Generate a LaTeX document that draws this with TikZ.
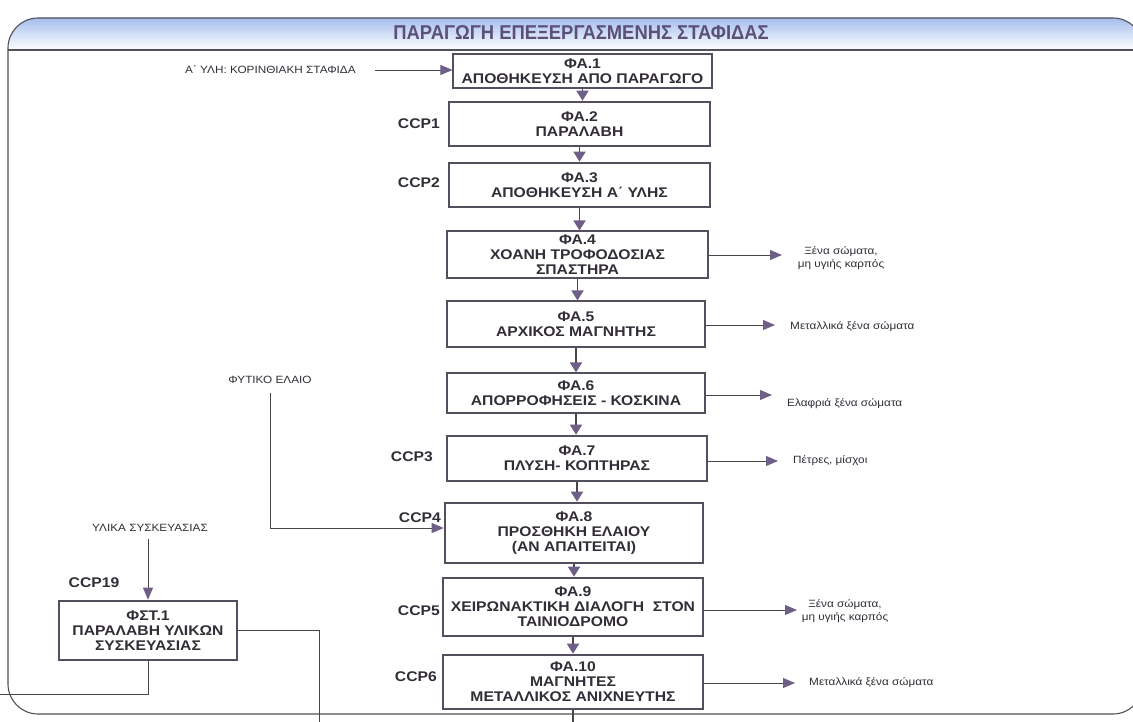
\documentclass[tikz,border=0pt]{standalone}
\usepackage{fontspec}
\setmainfont{Liberation Sans}
\newfontfamily\widefont{Liberation Sans}[FakeStretch=1.12]
\newfontfamily\narrowfont{Liberation Sans}[FakeStretch=0.92]
\usetikzlibrary{arrows.meta}

\definecolor{boxc}{RGB}{85,78,95}
\definecolor{txtc}{RGB}{50,45,55}
\definecolor{tipc}{RGB}{110,95,135}
\definecolor{linec}{RGB}{70,70,75}
\definecolor{framec}{RGB}{80,80,88}
\definecolor{titlec}{RGB}{90,80,120}
\definecolor{hdrblue}{RGB}{160,186,236}
\definecolor{hdrmid}{RGB}{212,224,248}

\begin{document}
\begin{tikzpicture}[x=1pt,y=-1pt,
  stage/.style={draw=boxc, line width=1.1pt, fill=white, inner sep=0pt,
    align=center, text=txtc, font=\widefont\bfseries\fontsize{14}{15}\selectfont},
  ccpstage/.style={stage, line width=2.6pt},
  ccplabel/.style={font=\widefont\bfseries\fontsize{14}{15}\selectfont, text=txtc, inner sep=0pt},
  outlabel/.style={font=\widefont\fontsize{10.5}{13}\selectfont, text=txtc, align=center, inner sep=0pt},
  inlabel/.style={font=\widefont\fontsize{10.5}{13}\selectfont, text=txtc, inner sep=0pt},
  flow/.style={draw=linec, line width=1.8pt, -{Triangle[length=10pt,width=12pt,color=tipc]}},
  side/.style={draw=linec, line width=0.9pt, -{Triangle[length=12pt,width=10pt,color=tipc]}},
  feed/.style={draw=linec, line width=0.9pt}]

\useasboundingbox (0,0) rectangle (1133,722);
\fill[white] (0,0) rectangle (1133,722);
\clip (0,0) rectangle (1133,722);

% frame with shaded title band
\begin{scope}
  \clip[rounded corners=30pt] (8,18) rectangle (1143,714);
  \shade[top color=hdrblue, middle color=hdrmid, bottom color=white] (0,16) rectangle (1143,50);
\end{scope}
\draw[framec, line width=1.1pt, rounded corners=30pt] (8,18) rectangle (1143,714);
\draw[framec, line width=1.1pt] (8,50) -- (1143,50);
\node[font=\narrowfont\bfseries\fontsize{20}{20}\selectfont, text=titlec] (title) at (581,33)
  {ΠΑΡΑΓΩΓΗ ΕΠΕΞΕΡΓΑΣΜΕΝΗΣ ΣΤΑΦΙΔΑΣ};

% main processing line
\node[stage, minimum width=259pt, minimum height=34pt] (b1) at (582.5,71)
  {ΦΑ.1\\ΑΠΟΘΗΚΕΥΣΗ ΑΠΟ ΠΑΡΑΓΩΓΟ};
\node[ccpstage, minimum width=261pt, minimum height=44pt] (b2) at (579.5,124)
  {ΦΑ.2\\ΠΑΡΑΛΑΒΗ};
\node[ccpstage, minimum width=261pt, minimum height=44pt] (b3) at (579.5,185)
  {ΦΑ.3\\ΑΠΟΘΗΚΕΥΣΗ Α΄ ΥΛΗΣ};
\node[stage, minimum width=261pt, minimum height=47pt] (b4) at (577.5,254.5)
  {ΦΑ.4\\ΧΟΑΝΗ ΤΡΟΦΟΔΟΣΙΑΣ\\ΣΠΑΣΤΗΡΑ};
\node[stage, minimum width=258pt, minimum height=46pt] (b5) at (576,324)
  {ΦΑ.5\\ΑΡΧΙΚΟΣ ΜΑΓΝΗΤΗΣ};
\node[stage, minimum width=258pt, minimum height=40pt] (b6) at (576,393)
  {ΦΑ.6\\ΑΠΟΡΡΟΦΗΣΕΙΣ - ΚΟΣΚΙΝΑ};
\node[ccpstage, minimum width=260pt, minimum height=45pt] (b7) at (577,458.5)
  {ΦΑ.7\\ΠΛΥΣΗ- ΚΟΠΤΗΡΑΣ};
\node[ccpstage, minimum width=258pt, minimum height=60pt] (b8) at (574,533)
  {ΦΑ.8\\ΠΡΟΣΘΗΚΗ ΕΛΑΙΟΥ\\(ΑΝ ΑΠΑΙΤΕΙΤΑΙ)};
\node[ccpstage, minimum width=260pt, minimum height=58pt] (b9) at (573,607)
  {ΦΑ.9\\ΧΕΙΡΩΝΑΚΤΙΚΗ ΔΙΑΛΟΓΗ\ \ ΣΤΟΝ\\ΤΑΙΝΙΟΔΡΟΜΟ};
\node[ccpstage, minimum width=260pt, minimum height=54pt] (b10) at (573,682)
  {ΦΑ.10\\ΜΑΓΝΗΤΕΣ\\ΜΕΤΑΛΛΙΚΟΣ ΑΝΙΧΝΕΥΤΗΣ};

% packaging materials
\node[ccpstage, minimum width=178pt, minimum height=59pt] (f1) at (148,630.5)
  {ΦΣΤ.1\\ΠΑΡΑΛΑΒΗ ΥΛΙΚΩΝ\\ΣΥΣΚΕΥΑΣΙΑΣ};

% critical control points
\node[ccplabel, anchor=east] (c1) at (440,124) {CCP1};
\node[ccplabel, anchor=east] (c2) at (440,183) {CCP2};
\node[ccplabel, anchor=east] (c3) at (433,457) {CCP3};
\node[ccplabel, anchor=east] (c4) at (441,518) {CCP4};
\node[ccplabel, anchor=east] (c5) at (440,611) {CCP5};
\node[ccplabel, anchor=east] (c6) at (437,677) {CCP6};
\node[ccplabel] (c19) at (94,583) {CCP19};

% inputs
\node[inlabel, anchor=west] (in1) at (185,70) {Α΄ ΥΛΗ: ΚΟΡΙΝΘΙΑΚΗ ΣΤΑΦΙΔΑ};
\node[inlabel] (oil) at (270,380) {ΦΥΤΙΚΟ ΕΛΑΙΟ};
\node[inlabel] (pk) at (150,528) {ΥΛΙΚΑ ΣΥΣΚΕΥΑΣΙΑΣ};

% removed material
\node[outlabel] (o4) at (841,258) {Ξένα σώματα,\\μη υγιής καρπός};
\node[outlabel, anchor=west] (o5) at (790,327) {Μεταλλικά ξένα σώματα};
\node[outlabel, anchor=west] (o6) at (787,404) {Ελαφριά ξένα σώματα};
\node[outlabel, anchor=west] (o7) at (793,461) {Πέτρες, μίσχοι};
\node[outlabel] (o9) at (845,611) {Ξένα σώματα,\\μη υγιής καρπός};
\node[outlabel, anchor=west] (o10) at (809,683) {Μεταλλικά ξένα σώματα};

\coordinate (t4) at (782,255);
\coordinate (t5) at (775,325);
\coordinate (t6) at (772,395);
\coordinate (t7) at (778,461);
\coordinate (t9) at (797,610);
\coordinate (t10) at (795,683);
\coordinate (exitB) at (573,735);
\coordinate (exitR) at (319,735);
\coordinate (exitL) at (-5,694);

% flow between stages
\draw[flow] (b1.south) -- (b1.south |- b2.north);
\draw[flow] (b2.south) -- (b2.south |- b3.north);
\draw[flow] (b3.south) -- (b3.south |- b4.north);
\draw[flow] (b4.south) -- (b4.south |- b5.north);
\draw[flow] (b5.south) -- (b5.south |- b6.north);
\draw[flow] (b6.south) -- (b6.south |- b7.north);
\draw[flow] (b7.south) -- (b7.south |- b8.north);
\draw[flow] (b8.south) -- (b8.south |- b9.north);
\draw[flow] (b9.south) -- (b9.south |- b10.north);
\draw[draw=linec, line width=1.8pt] (b10.south) -- (exitB);

% side outputs
\draw[side] (b4.east |- t4) -- (t4);
\draw[side] (b5.east |- t5) -- (t5);
\draw[side] (b6.east |- t6) -- (t6);
\draw[side] (b7.east |- t7) -- (t7);
\draw[side] (b9.east |- t9) -- (t9);
\draw[side] (b10.east |- t10) -- (t10);

% inputs
\draw[side, shorten <=19pt] (in1.east) -- (in1.east -| b1.west);
\draw[side, shorten <=9pt] (oil.south) |- ([yshift=5pt]b8.west);
\draw[side, shorten <=7pt] (pk.south -| f1.north) -- (f1.north);
\draw[feed] (f1.east) -| (exitR);
\draw[feed] (f1.south) |- (exitL);
\end{tikzpicture}
\end{document}
